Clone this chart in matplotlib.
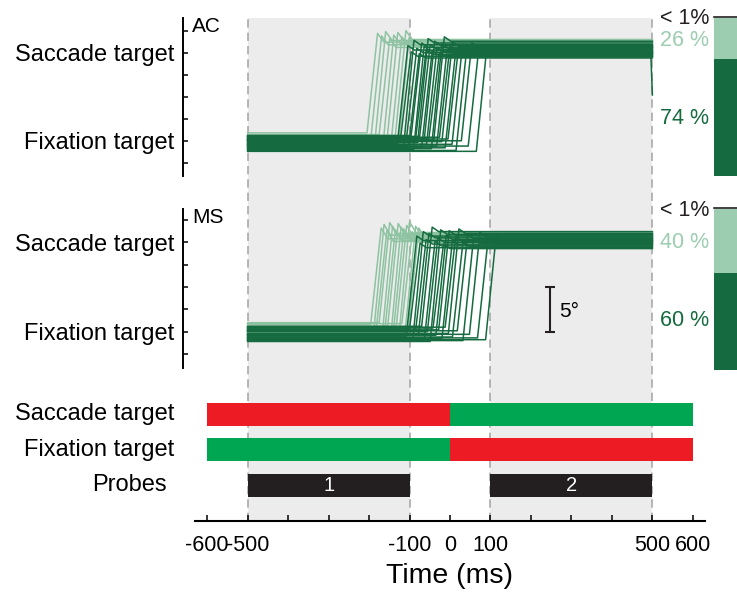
import matplotlib.pyplot as plt

plt.rcParams['font.family'] = ['Liberation Sans', 'DejaVu Sans']

# ---- data ----
time_ticks = list(range(-600, 601, 100))
time_labels = ['-600', '-500', '', '', '', '-100', '0', '100', '', '', '', '500', '600']
probe_windows = [(-500, -100), (100, 500)]
probe_names = ['1', '2']
stim_edges = [-600, 0, 600]
row_names = ['Saccade target', 'Fixation target', 'Probes']
trace_start, trace_end = -500, 500

# eye traces (deg): saccade onset (ms), fixation level, saccade level
ac_light_onset = [-205, -195, -185, -175, -165, -155, -145, -135, -127]
ac_light_fix = [0.9, 0.5, 0.2, 0.7, -0.2, 0.4, 0.1, 0.6, -0.4]
ac_light_sac = [11.2, 10.9, 11.4, 10.6, 11.0, 11.3, 10.8, 11.5, 10.7]
ac_dark_onset = [-130, -122, -115, -108, -102, -96, -90, -85, -80, -75, -70, -64, -58,
                 -52, -46, -40, -33, -26, -20, -12, -5, 5, 15, 28, 45, 65]
ac_dark_fix = [-0.3, 0.4, -0.8, 0.1, -0.5, 0.6, -1.0, 0.2, -0.2, 0.5, -0.7, 0.0, -0.4,
               0.3, -0.9, 0.1, -0.6, 0.4, -0.1, -0.8, 0.2, -0.4, -1.1, 0.0, -0.6, -1.2]
ac_dark_sac = [10.3, 9.6, 10.9, 10.0, 9.4, 10.6, 10.2, 9.8, 11.1, 10.4, 9.7, 10.8, 10.1,
               9.5, 10.5, 11.3, 9.9, 10.2, 10.7, 9.6, 10.0, 10.4, 9.8, 10.6, 9.9, 10.1]
ac_end_drop = 5.2

ms_light_onset = [-196, -189, -182, -175, -168, -161, -154, -147, -140, -133, -126, -119, -111, -103]
ms_light_fix = [0.8, -0.3, 0.4, 1.0, -0.6, 0.2, 0.6, -0.9, 0.0, 0.5, -0.4, 0.9, -0.1, 0.3]
ms_light_sac = [10.4, 10.8, 10.1, 11.0, 10.6, 10.2, 10.9, 10.5, 10.3, 10.7, 11.1, 10.0, 10.6, 10.4]
ms_dark_onset = [-108, -100, -92, -85, -78, -70, -63, -56, -49, -42, -35, -28, -20, -12,
                 -4, 6, 18, 32, 48, 68, 88]
ms_dark_fix = [-0.5, 0.3, -0.9, 0.1, -0.3, 0.6, -0.7, 0.0, -1.1, 0.4, -0.4, 0.2, -0.8, 0.5,
               -0.2, -0.6, 0.1, -1.0, -0.3, -0.7, -0.9]
ms_dark_sac = [10.2, 9.4, 10.7, 9.8, 10.5, 11.2, 9.6, 10.0, 10.9, 9.3, 10.3, 10.8, 9.7, 10.1,
               11.0, 9.5, 10.4, 9.9, 10.6, 9.8, 10.2]

ac_pct = [74, 26]   # dark, light
ms_pct = [60, 40]
scale_deg = 5

# ---- colours ----
RED, GREEN, BLACK = '#ed1c24', '#00a651', '#231f20'
DARK, LIGHT, LIGHT_BAR = '#156b3f', '#8ec3a2', '#9dcdb1'
SHADE, DASH = '#ececec', '#a9a9a9'
saccade_cols = [RED, GREEN]
fixation_cols = [GREEN, RED]

W, H = 737, 597
fig = plt.figure(figsize=(W / 100, H / 100), dpi=100)


def box(x0, y0, x1, y1):
    return [x0 / W, 1 - y1 / H, (x1 - x0) / W, (y1 - y0) / H]


XLIM = (-630, 630)

# background shading + dashed window lines
bg = fig.add_axes(box(195, 18, 705, 521))
bg.set_xlim(XLIM)
bg.set_ylim(0, 1)
bg.axis('off')
for a, b in probe_windows:
    bg.axvspan(a, b, color=SHADE, lw=0)
    for x in (a, b):
        bg.axvline(x, color=DASH, lw=1.2, ls=(0, (5, 3)))


def draw_traces(ax, onsets, fixs, sacs, color, overshoot):
    for on, f, s in zip(onsets, fixs, sacs):
        t = [trace_start, on, on + 26, on + 42, trace_end]
        y = [f, f, s + overshoot, s, s]
        ax.plot(t, y, color=color, lw=1.1, solid_joinstyle='round')


def trace_panel(rect, ylim, name):
    ax = fig.add_axes(rect)
    ax.set_facecolor('none')
    ax.set_xlim(XLIM)
    ax.set_ylim(ylim)
    for s in ('top', 'right', 'bottom'):
        ax.spines[s].set_visible(False)
    ax.spines['left'].set_position(('outward', 8.6))
    ax.spines['left'].set_linewidth(1.4)
    ax.set_xticks([])
    ax.set_yticks([-2.5, 0, 2.5, 5, 7.5, 10, 12.5],
                  ['', 'Fixation target', '', '', '', 'Saccade target', ''])
    ax.tick_params(axis='y', direction='in', length=3.5, width=1.1, pad=6.5, labelsize=17)
    ax.text(-0.006, 0.945, name, transform=ax.transAxes, fontsize=15, va='center', ha='left')
    return ax


ax_ac = trace_panel(box(195, 18, 705, 176), (-4.0, 13.94), 'AC')
draw_traces(ax_ac, ac_light_onset, ac_light_fix, ac_light_sac, LIGHT, 1.0)
draw_traces(ax_ac, ac_dark_onset, ac_dark_fix, ac_dark_sac, DARK, 0.5)
ax_ac.plot([trace_end - 4, trace_end], [ac_dark_sac[-1], ac_end_drop], color=DARK, lw=1.1)

ax_ms = trace_panel(box(195, 209, 705, 368), (-4.07, 13.73), 'MS')
draw_traces(ax_ms, ms_light_onset, ms_light_fix, ms_light_sac, LIGHT, 1.2)
draw_traces(ax_ms, ms_dark_onset, ms_dark_fix, ms_dark_sac, DARK, 0.5)

# 5 deg scale bar
ax_ms.errorbar([247], [scale_deg / 2], yerr=[scale_deg / 2], color=BLACK, lw=1.5,
               capsize=3.5, capthick=1.5)
ax_ms.text(269, scale_deg / 2 - 0.3, '5°', fontsize=15, va='center', ha='left')


def pct_bar(rect, pct, texts_y):
    ax = fig.add_axes(rect)
    ax.set_xlim(0, 1)
    ax.set_ylim(0, 100)
    ax.axis('off')
    ax.bar([0.5], [pct[0]], width=1, color=DARK, lw=0)
    ax.bar([0.5], [pct[1]], bottom=[pct[0]], width=1, color=LIGHT_BAR, lw=0)
    ax.plot([0, 1], [100.6, 100.6], color=BLACK, lw=1.2, clip_on=False)
    y_lt, y_light, y_dark = texts_y
    fig.text(709 / W, 1 - y_lt / H, '< 1%', fontsize=15.5, ha='right', va='center', color=BLACK)
    fig.text(709 / W, 1 - y_light / H, f'{pct[1]} %', fontsize=15.5, ha='right', va='center',
             color=LIGHT_BAR)
    fig.text(709 / W, 1 - y_dark / H, f'{pct[0]} %', fontsize=15.5, ha='right', va='center',
             color=DARK)


pct_bar(box(714, 18, 740, 176), ac_pct, (18, 40, 118))
pct_bar(box(714, 209, 740, 370), ms_pct, (210, 242, 320))

# stimulus timeline
ax_t = fig.add_axes(box(195, 393, 705, 521))
ax_t.set_facecolor('none')
ax_t.set_xlim(XLIM)
ax_t.set_ylim(-1, 2.6)
for s in ('top', 'right', 'left'):
    ax_t.spines[s].set_visible(False)
ax_t.spines['bottom'].set_linewidth(1.5)
ax_t.set_yticks([])
for i in range(len(stim_edges) - 1):
    a, b = stim_edges[i], stim_edges[i + 1]
    ax_t.barh(2, b - a, left=a, height=0.65, color=saccade_cols[i], lw=0)
    ax_t.barh(1, b - a, left=a, height=0.65, color=fixation_cols[i], lw=0)
for (a, b), name in zip(probe_windows, probe_names):
    ax_t.barh(0, b - a, left=a, height=0.65, color=BLACK, lw=0)
    ax_t.text((a + b) / 2, 0, name, color='white', fontsize=14.5, ha='center', va='center')
for y, name, x in zip([2, 1, 0], row_names, [-682, -682, -699]):
    ax_t.text(x, y, name, fontsize=17, ha='right', va='center')

ax_t.set_xticks(time_ticks, time_labels)
ax_t.tick_params(axis='x', direction='in', length=4.3, width=1.1, pad=10, labelsize=15.5)
ax_t.set_xlabel('Time (ms)', fontsize=20.5, labelpad=5)

fig.savefig('out.png', dpi=100)
